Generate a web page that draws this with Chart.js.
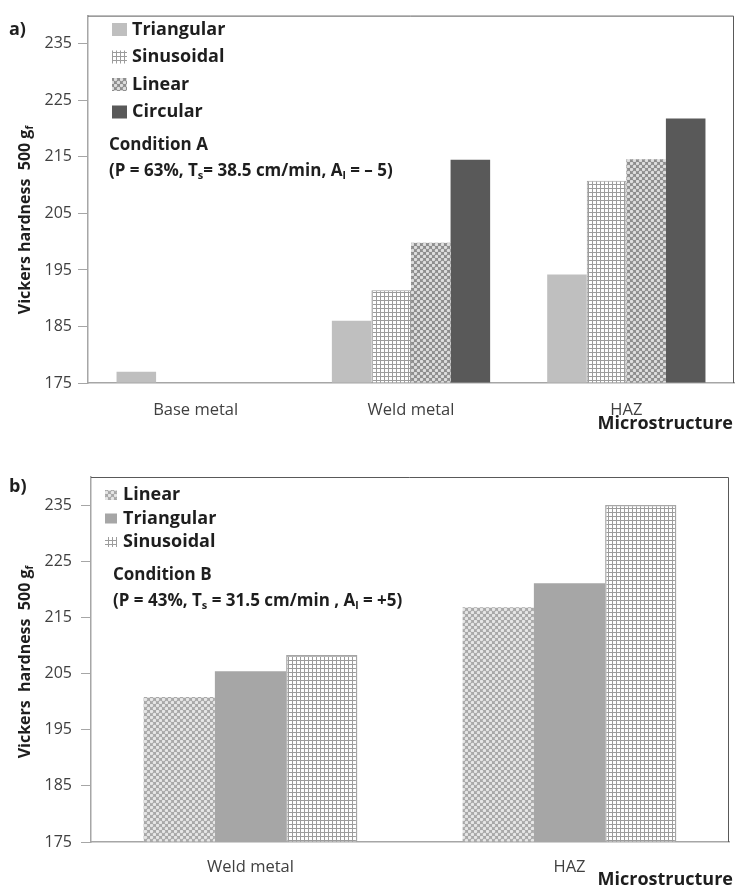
<!DOCTYPE html>
<html>
<head>
<meta charset="utf-8">
<script src="https://cdn.jsdelivr.net/npm/chart.js@4.4.1/dist/chart.umd.min.js"></script>
<style>
  html, body { margin: 0; padding: 0; background: #fff; }
  .panel { position: absolute; left: 0; width: 735px; }
</style>
</head>
<body>
<div class="panel" style="top:0;height:440px"><canvas id="chartA" width="735" height="440"></canvas></div>
<div class="panel" style="top:440px;height:450px"><canvas id="chartB" width="735" height="450"></canvas></div>
<script>
// ---- data ----
const yTicks = [175, 185, 195, 205, 215, 225, 235];
const yMin = 175;
const yMax = 240;

const topCategories = ["Base metal", "Weld metal", "HAZ"];
const topSeries = ["Triangular", "Sinusoidal", "Linear", "Circular"];
const topTriangular = [177, 186, 194.2];
const topSinusoidal = [null, 191.4, 210.8];
const topLinear = [null, 199.8, 214.6];
const topCircular = [null, 214.5, 221.8];

const bottomCategories = ["Weld metal", "HAZ"];
const bottomSeries = ["Linear", "Triangular", "Sinusoidal"];
const bottomLinear = [200.8, 216.8];
const bottomTriangular = [205.4, 221.1];
const bottomSinusoidal = [208.3, 235.0];

const FONT = "'Open Sans', 'DejaVu Sans', sans-serif";
const DARK = "#1e1e1e";

// ---- fill patterns ----
function gridPattern() {
  const c = document.createElement("canvas");
  c.width = 4; c.height = 4;
  const g = c.getContext("2d");
  g.fillStyle = "#ffffff";
  g.fillRect(0, 0, 4, 4);
  g.fillStyle = "#9c9c9c";
  g.fillRect(0, 0, 4, 1);
  g.fillRect(0, 0, 1, 4);
  return g.createPattern(c, "repeat");
}

function dotPattern(bg, dot) {
  const c = document.createElement("canvas");
  c.width = 6; c.height = 6;
  const g = c.getContext("2d");
  g.fillStyle = bg;
  g.fillRect(0, 0, 6, 6);
  g.fillStyle = dot;
  [[1.5, 1.5], [4.5, 4.5]].forEach(([x, y]) => {
    g.beginPath();
    g.arc(x, y, 1.7, 0, Math.PI * 2);
    g.fill();
  });
  return g.createPattern(c, "repeat");
}

// ---- text helpers ----
function richText(ctx, x, y, parts, size) {
  // parts: [text, isSub]
  let cx = x;
  parts.forEach(([t, sub]) => {
    const s = sub ? Math.round(size * 0.62) : size;
    ctx.font = "bold " + s + "px " + FONT;
    ctx.fillText(t, cx, sub ? y + size * 0.3 : y);
    cx += ctx.measureText(t).width;
  });
  return cx - x;
}

function richWidth(ctx, parts, size) {
  let w = 0;
  parts.forEach(([t, sub]) => {
    const s = sub ? Math.round(size * 0.62) : size;
    ctx.font = "bold " + s + "px " + FONT;
    w += ctx.measureText(t).width;
  });
  return w;
}

function annotations(cfg) {
  return {
    id: "annot",
    afterDraw(chart) {
      const ctx = chart.ctx;
      const a = chart.chartArea;
      ctx.save();
      // frame top and right
      ctx.strokeStyle = "#595959";
      ctx.lineWidth = 1;
      ctx.beginPath();
      ctx.moveTo(a.left, a.top + 0.5);
      ctx.lineTo(a.right - 0.5, a.top + 0.5);
      ctx.lineTo(a.right - 0.5, a.bottom);
      ctx.stroke();

      ctx.fillStyle = DARK;
      ctx.textBaseline = "middle";
      ctx.textAlign = "left";

      // panel letter
      ctx.font = "bold 18px " + FONT;
      ctx.fillText(cfg.letter, 9, cfg.letterY);

      // legend
      chart.data.datasets.forEach((ds, i) => {
        const y = cfg.legend.y + i * cfg.legend.step;
        ctx.fillStyle = ds.backgroundColor;
        ctx.fillRect(cfg.legend.x, y - cfg.legend.h / 2, cfg.legend.w, cfg.legend.h);
        ctx.fillStyle = DARK;
        ctx.font = "bold 18px " + FONT;
        ctx.fillText(ds.label, cfg.legend.textX, y);
      });

      // condition note
      ctx.font = "bold 17px " + FONT;
      ctx.fillText(cfg.cond1, cfg.condX, cfg.condY);
      richText(ctx, cfg.condX, cfg.condY + 26, cfg.cond2, 17);

      // x axis title
      ctx.font = "bold 18px " + FONT;
      ctx.textAlign = "right";
      ctx.fillText("Microstructure", 733, cfg.xTitleY);

      // y axis title
      const yParts = [[cfg.yTitle, false], ["g", false], ["f", true]];
      ctx.translate(cfg.yTitleX, cfg.yTitleY);
      ctx.rotate(-Math.PI / 2);
      ctx.textAlign = "left";
      const w = richWidth(ctx, yParts, 16);
      richText(ctx, -w / 2, 0, yParts, 16);
      ctx.restore();
    }
  };
}

function makeChart(id, categories, datasets, lay, cfg) {
  return new Chart(document.getElementById(id), {
    type: "bar",
    data: { labels: categories, datasets: datasets },
    options: {
      responsive: false,
      animation: false,
      devicePixelRatio: 1,
      layout: { padding: { left: 0, right: lay.right, top: lay.top, bottom: 0 } },
      datasets: { bar: { categoryPercentage: lay.catPct, barPercentage: 1, base: yMin } },
      scales: {
        x: {
          grid: { display: false, drawTicks: false },
          border: { display: true, color: "#a6a6a6", width: 1.5 },
          ticks: { color: "#404040", font: { family: FONT, size: 16.5 }, padding: lay.xPad },
          afterFit: s => { s.height = lay.xHeight; }
        },
        y: {
          min: yMin,
          max: yMax,
          grid: { drawOnChartArea: false, drawTicks: true, tickLength: 10, color: "#a6a6a6" },
          border: { display: true, color: "#a6a6a6", width: 1.5 },
          ticks: { color: "#404040", font: { family: FONT, size: 16 }, padding: lay.yPad },
          afterBuildTicks: s => { s.ticks = yTicks.map(v => ({ value: v })); },
          afterFit: s => { s.width = lay.yWidth; }
        }
      },
      plugins: { legend: { display: false }, tooltip: { enabled: false } }
    },
    plugins: [annotations(cfg)]
  });
}

const grid = gridPattern();
const dots = dotPattern("#8e8e8e", "#dedede");
const dotsLight = dotPattern("#a8a8a8", "#e6e6e6");

makeChart("chartA", topCategories, [
  { label: topSeries[0], data: topTriangular, backgroundColor: "#bfbfbf" },
  { label: topSeries[1], data: topSinusoidal, backgroundColor: grid, borderColor: "#9c9c9c", borderWidth: 1 },
  { label: topSeries[2], data: topLinear, backgroundColor: dots },
  { label: topSeries[3], data: topCircular, backgroundColor: "#595959" }
], { right: 1, top: 14, xHeight: 57, yWidth: 88, catPct: 0.735, xPad: 17, yPad: 6 }, {
  letter: "a)", letterY: 30,
  legend: { x: 112, y: 29.5, step: 27.5, w: 15, h: 13, textX: 132 },
  cond1: "Condition A", condX: 109, condY: 145,
  cond2: [["(P = 63%, T", false], ["s", true], ["= 38.5 cm/min, A", false], ["l", true], [" = \u2013 5)", false]],
  xTitleY: 424,
  yTitle: "Vickers hardness  500 ", yTitleX: 25, yTitleY: 220
});

makeChart("chartB", bottomCategories, [
  { label: bottomSeries[0], data: bottomLinear, backgroundColor: dotsLight },
  { label: bottomSeries[1], data: bottomTriangular, backgroundColor: "#a6a6a6" },
  { label: bottomSeries[2], data: bottomSinusoidal, backgroundColor: grid, borderColor: "#a6a6a6", borderWidth: 1.5 }
], { right: 6, top: 37, xHeight: 48, yWidth: 91, catPct: 0.67, xPad: 15, yPad: 9 }, {
  letter: "b)", letterY: 47,
  legend: { x: 105, y: 55, step: 23.5, w: 12, h: 10, textX: 123 },
  cond1: "Condition B", condX: 113, condY: 135,
  cond2: [["(P = 43%, T", false], ["s", true], [" = 31.5 cm/min , A", false], ["l", true], [" = +5)", false]],
  xTitleY: 440,
  yTitle: "Vickers  hardness  500 ", yTitleX: 25, yTitleY: 222
});
</script>
</body>
</html>
